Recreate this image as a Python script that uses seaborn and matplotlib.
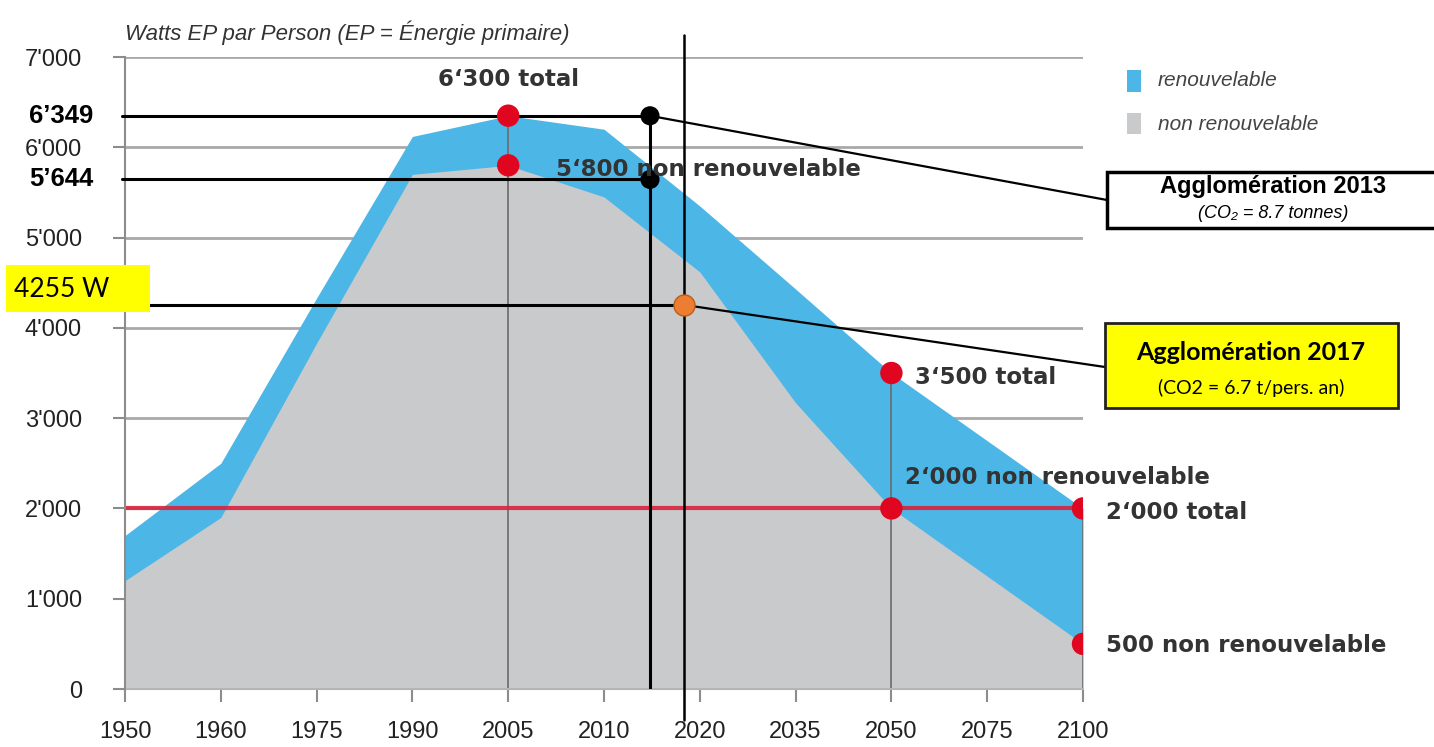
import numpy as np
import pandas as pd
import matplotlib
matplotlib.use("Agg")
import matplotlib.pyplot as plt
import seaborn as sns
from matplotlib.patches import Rectangle
from matplotlib.ticker import FuncFormatter

# --- data (Watts of primary energy per person) ---
years = ['1950', '1960', '1975', '1990', '2005', '2010', '2020', '2035', '2050', '2075', '2100']
total_w = [1700, 2500, 4330, 6120, 6350, 6200, 5350, 4430, 3500, 2750, 2000]
non_renew_w = [1200, 1900, 3830, 5700, 5800, 5450, 4620, 3170, 2000, 1250, 500]

# target points highlighted with red dots
target_years = ['2005', '2050', '2100']
target_labels_total = ['6\u2018300 total', '3\u2018500 total', '2\u2018000 total']
target_labels_nonren = ['5\u2018800 non renouvelable', '2\u2018000 non renouvelable', '500 non renouvelable']

# agglomeration measurements (position between 2010 and 2020 on the category axis)
aggl2013_pos = 5.48
aggl2013_vals = [6349, 5644]
aggl2013_labels = ['6\u2019349', '5\u2019644']
aggl2017_pos = 5.83
aggl2017_val = 4255
limit_2000w = 2000

BLUE = '#4cb6e6'
GRAY = '#c9cacc'
RED = '#e0061f'
TXT = '#333333'
NARROW = ['Liberation Sans Narrow', 'Liberation Sans', 'DejaVu Sans']
CALIBRI = ['Lato', 'DejaVu Sans']

sns.set_theme(style="white")
plt.rcParams['font.family'] = ['DejaVu Sans']

df = pd.DataFrame({'year': years, 'pos': np.arange(len(years)),
                   'total': total_w, 'non_renew': non_renew_w})

fig = plt.figure(figsize=(14.34, 7.47), dpi=100)
ax = fig.add_axes([125 / 1434, 58 / 747, 958 / 1434, 632 / 747])

# stacked areas
ax.fill_between(df['pos'], 0, df['total'], color=BLUE, lw=0, zorder=1)
ax.fill_between(df['pos'], 0, df['non_renew'], color=GRAY, lw=0, zorder=1.1)

# drop lines from the target dots
tgt = df[df['year'].isin(target_years)]
ax.vlines(tgt['pos'], 0, tgt['total'], color='#6b6b6b', lw=1.2, zorder=2)

# 2000 W limit
ax.axhline(limit_2000w, color='#d8243e', lw=3, alpha=0.9, zorder=3)

# red target dots
dots = pd.DataFrame({'x': np.concatenate([tgt['pos'], tgt['pos']]),
                     'y': np.concatenate([tgt['total'], tgt['non_renew']])})
sns.scatterplot(data=dots, x='x', y='y', color=RED, s=260, edgecolor='none', ax=ax, zorder=6)

# target labels
offsets_total = [(0, 36, 'center'), (24, -4, 'left'), (23, -4, 'left')]
offsets_nonren = [(48, -4, 'left'), (14, 31, 'left'), (23, -2, 'left')]
for (_, r), lab_t, lab_n, ot, on in zip(tgt.iterrows(), target_labels_total,
                                        target_labels_nonren, offsets_total, offsets_nonren):
    ax.annotate(lab_t, (r['pos'], r['total']), xytext=ot[:2], textcoords='offset pixels',
                ha=ot[2], va='center', fontsize=16.5, weight='bold', color=TXT, zorder=7)
    ax.annotate(lab_n, (r['pos'], r['non_renew']), xytext=on[:2], textcoords='offset pixels',
                ha=on[2], va='center', fontsize=16.5, weight='bold', color=TXT, zorder=7)

# Agglomeration 2013 markers
for v, lab in zip(aggl2013_vals, aggl2013_labels):
    ax.plot([-0.03, aggl2013_pos], [v, v], color='black', lw=2.2, clip_on=False, zorder=4)
    ax.text(-0.33, v, lab, ha='right', va='center', fontsize=18.5, weight='bold',
            family=NARROW, color='black')
ax.plot([aggl2013_pos, aggl2013_pos], [0, max(aggl2013_vals)], color='black', lw=2.2, zorder=4)
sns.scatterplot(x=[aggl2013_pos] * 2, y=aggl2013_vals, color='black', s=190,
                edgecolor='none', ax=ax, zorder=6, clip_on=False)

# Agglomeration 2017 marker
ax.plot([aggl2017_pos, aggl2017_pos], [7240, -340], color='black', lw=1.8, clip_on=False, zorder=4)
ax.plot([-0.03, aggl2017_pos], [aggl2017_val, aggl2017_val], color='black', lw=2.2,
        clip_on=False, zorder=4)
sns.scatterplot(x=[aggl2017_pos], y=[aggl2017_val], color='#ed7d31', s=230,
                edgecolor='#b5601f', linewidth=1, ax=ax, zorder=7)

# axes styling
ax.set_xlim(0, len(years) - 1)
ax.set_ylim(0, 7000)
ax.set_xticks(df['pos'])
ax.set_xticklabels(years)
ax.set_yticks(range(0, 7001, 1000))
ax.yaxis.set_major_formatter(FuncFormatter(lambda v, _: f"{int(v):,}".replace(",", "'")))
ax.set_xlabel('')
ax.set_ylabel('')
ax.set_axisbelow(True)
ax.yaxis.grid(True, color='#a9a9a9', lw=2)
ax.xaxis.grid(False)
for s in ['top', 'right']:
    ax.spines[s].set_visible(False)
ax.spines['left'].set_color('#8c8c8c')
ax.spines['left'].set_linewidth(1.5)
ax.spines['bottom'].set_color('#b5b5b5')
ax.spines['bottom'].set_linewidth(1.5)
ax.spines['left'].set_zorder(3)
ax.tick_params(axis='both', length=9, width=1.5, color='#8c8c8c', labelsize=17,
               labelcolor='#222222', left=True, bottom=True)
ax.tick_params(axis='y', pad=22)
ax.tick_params(axis='x', pad=14)
for lab in ax.get_xticklabels() + ax.get_yticklabels():
    lab.set_family(NARROW)

# connector lines to the boxes
ax.annotate('', xy=(aggl2013_pos, aggl2013_vals[0]), xytext=(1107 / 1434, 1 - 200 / 747),
            textcoords='figure fraction',
            arrowprops=dict(arrowstyle='-', color='black', lw=1.6, shrinkA=0, shrinkB=0))
ax.annotate('', xy=(aggl2017_pos, aggl2017_val), xytext=(1105 / 1434, 1 - 367 / 747),
            textcoords='figure fraction',
            arrowprops=dict(arrowstyle='-', color='black', lw=1.6, shrinkA=0, shrinkB=0))

# boxes
fig.patches.append(Rectangle((1107 / 1434, 1 - 228 / 747), 330 / 1434, 56 / 747,
                             transform=fig.transFigure, facecolor='white',
                             edgecolor='black', lw=2.5, zorder=5))
fig.text(1273 / 1434, 1 - 187 / 747, 'Agglomération 2013', ha='center', va='center',
         fontsize=17, weight='bold', family=['Liberation Sans', 'DejaVu Sans'], color='black', zorder=6)
fig.text(1273 / 1434, 1 - 213 / 747, '(CO\u2082 = 8.7 tonnes)', ha='center', va='center',
         fontsize=13, style='italic', family=['Liberation Sans', 'DejaVu Sans'], color='black', zorder=6)

fig.patches.append(Rectangle((1105 / 1434, 1 - 408 / 747), 293 / 1434, 85 / 747,
                             transform=fig.transFigure, facecolor='#ffff00',
                             edgecolor='#222222', lw=2, zorder=5))
fig.text(1251 / 1434, 1 - 353 / 747, 'Agglomération 2017', ha='center', va='center',
         fontsize=18, weight='bold', family=CALIBRI, color='black', zorder=6)
fig.text(1251 / 1434, 1 - 388 / 747, '(CO2 = 6.7 t/pers. an)', ha='center', va='center',
         fontsize=14, family=CALIBRI, color='black', zorder=6)

fig.patches.append(Rectangle((6 / 1434, 1 - 312 / 747), 144 / 1434, 47 / 747,
                             transform=fig.transFigure, facecolor='#ffff00',
                             edgecolor='none', zorder=5))
fig.text(14 / 1434, 1 - 290 / 747, f'{aggl2017_val} W', ha='left', va='center',
         fontsize=19, family=CALIBRI, color='black', zorder=6)

# legend
fig.patches.append(Rectangle((1127 / 1434, 1 - 92 / 747), 14 / 1434, 22 / 747,
                             transform=fig.transFigure, facecolor=BLUE, edgecolor='none'))
fig.patches.append(Rectangle((1127 / 1434, 1 - 134 / 747), 14 / 1434, 21 / 747,
                             transform=fig.transFigure, facecolor=GRAY, edgecolor='none'))
fig.text(1158 / 1434, 1 - 80 / 747, 'renouvelable', ha='left', va='center', fontsize=15,
         style='italic', family=NARROW, color='#444444')
fig.text(1158 / 1434, 1 - 124 / 747, 'non renouvelable', ha='left', va='center', fontsize=15,
         style='italic', family=NARROW, color='#444444')

# axis title
fig.text(125 / 1434, 1 - 33 / 747, 'Watts EP par Person (EP = Énergie primaire)', ha='left',
         va='center', fontsize=16, style='italic', family=NARROW, color=TXT)

plt.savefig('out.png', dpi=100)
